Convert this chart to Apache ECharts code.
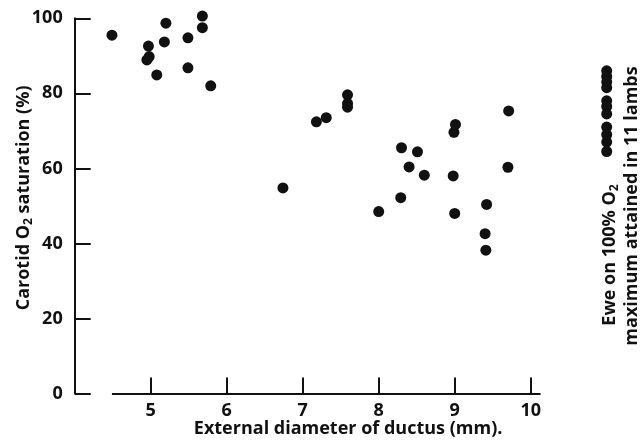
<!DOCTYPE html>
<html>
<head>
<meta charset="utf-8">
<script src="https://cdn.jsdelivr.net/npm/echarts@6/dist/echarts.min.js"></script>
<style>
  html, body { margin: 0; padding: 0; background: #fff; }
  #chart { width: 644px; height: 447px; }
</style>
</head>
<body>
<div id="chart"></div>
<script>
// lambs: external diameter of ductus (mm) vs carotid O2 saturation (%)
const ductusDiameter = [
  4.49, 4.97, 4.98, 4.95, 5.08, 5.20, 5.18, 5.49, 5.49, 5.68, 5.68, 5.79,
  6.74, 7.18, 7.31, 7.59, 7.59, 7.59,
  8.00, 8.29, 8.30, 8.40, 8.51, 8.60,
  8.98, 8.99, 9.00, 9.01, 9.42, 9.40, 9.41, 9.70, 9.71
]
const carotidSat = [
  95.5, 92.6, 89.8, 88.9, 84.9, 98.7, 93.7, 94.8, 86.8, 100.6, 97.5, 82.0,
  54.8, 72.4, 73.5, 79.6, 77.3, 76.3,
  48.5, 52.2, 65.5, 60.4, 64.4, 58.2,
  58.0, 69.6, 48.0, 71.7, 50.4, 42.6, 38.2, 60.3, 75.3
]
// ewe on 100% O2: maximum attained in 11 lambs
const eweColumnX = 11
const eweMaxSat = [86, 84.5, 83, 81.5, 78, 76.5, 74.5, 71, 69, 67, 64.5]

const xTicks = [5, 6, 7, 8, 9, 10]
const yTicks = [0, 20, 40, 60, 80, 100]
const xAxisLineRange = [4.49, 10.13]

const ink = '#111'
const font = '"Open Sans", Lato, sans-serif'
const txt = { color: ink, fontSize: 18, fontWeight: 'bold', fontFamily: font }

const chart = echarts.init(document.getElementById('chart'))

chart.setOption({
  animation: false,
  backgroundColor: '#fff',
  textStyle: { fontFamily: font },
  grid: {
    left: 74.7, right: 14.5, top: 18.3, bottom: 53.5,
    containLabel: false,
    outerBoundsMode: 'none'
  },
  xAxis: {
    type: 'value',
    min: 4,
    max: 11.3,
    interval: 1,
    name: 'External diameter of ductus (mm).',
    nameLocation: 'middle',
    nameGap: 26,
    nameMoveOverlap: false,
    nameTextStyle: { ...txt, padding: [0, 8, 0, 0] },
    axisLine: { show: false },
    axisTick: {
      show: true, inside: true, length: 16,
      customValues: xTicks,
      lineStyle: { color: ink, width: 2 }
    },
    axisLabel: { ...txt, customValues: xTicks, margin: 8 },
    splitLine: { show: false }
  },
  yAxis: {
    type: 'value',
    min: 0,
    max: 100,
    interval: 20,
    name: 'Carotid O{sub|2} saturation (%)',
    nameLocation: 'middle',
    nameGap: 40,
    nameMoveOverlap: false,
    nameTextStyle: {
      ...txt,
      padding: [0, 0, 0, 16],
      rich: {
        sub: { ...txt, fontSize: 12, padding: [10, 0, 0, 0] }
      }
    },
    axisLine: { show: true, lineStyle: { color: ink, width: 2 } },
    axisTick: {
      show: true, inside: true, length: 16,
      customValues: yTicks,
      lineStyle: { color: ink, width: 2 }
    },
    axisLabel: { ...txt, customValues: yTicks, margin: 12 },
    splitLine: { show: false }
  },
  series: [
    {
      name: 'lambs',
      type: 'scatter',
      symbol: 'circle',
      symbolSize: 11,
      clip: false,
      itemStyle: { color: ink, opacity: 1 },
      data: ductusDiameter.map((d, i) => [d, carotidSat[i]]),
      markLine: {
        silent: true,
        symbol: ['none', 'none'],
        label: { show: false },
        lineStyle: { color: ink, width: 2, type: 'solid' },
        data: [[
          { coord: [xAxisLineRange[0], 0] },
          { coord: [xAxisLineRange[1], 0] }
        ]]
      }
    },
    {
      name: 'ewe',
      type: 'scatter',
      symbol: 'circle',
      symbolSize: 11,
      clip: false,
      itemStyle: { color: ink, opacity: 1 },
      data: eweMaxSat.map(v => [eweColumnX, v])
    }
  ],
  graphic: [
    {
      type: 'text',
      x: 610, y: 255,
      rotation: Math.PI / 2,
      style: {
        text: 'Ewe on 100% O{sub|2}',
        fill: ink, fontSize: 18, fontWeight: 'bold', fontFamily: font,
        align: 'center', verticalAlign: 'middle',
        rich: {
          sub: { fontSize: 12, fontWeight: 'bold', fontFamily: font, fill: ink, padding: [10, 0, 0, 0] }
        }
      }
    },
    {
      type: 'text',
      x: 632, y: 206,
      rotation: Math.PI / 2,
      style: {
        text: 'maximum attained in 11 lambs',
        fill: ink, fontSize: 18, fontWeight: 'bold', fontFamily: font,
        align: 'center', verticalAlign: 'middle'
      }
    }
  ]
})
</script>
</body>
</html>
